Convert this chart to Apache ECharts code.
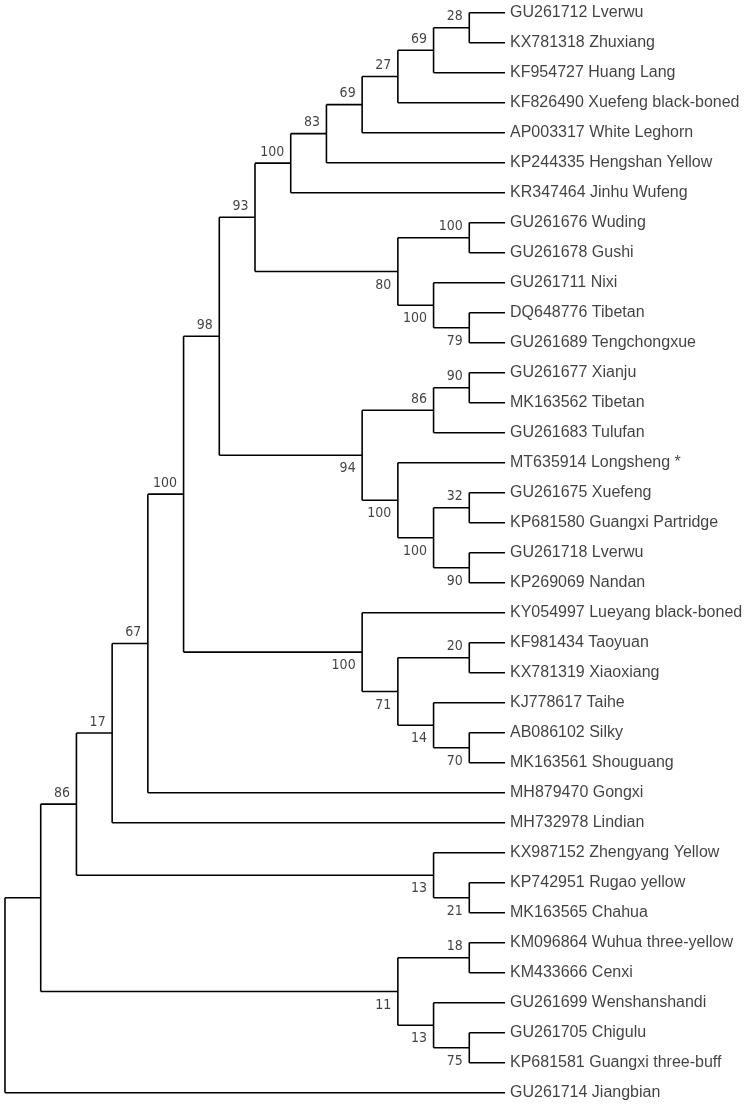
<!DOCTYPE html>
<html>
<head>
    <meta charset="UTF-8">
    <title>Phylogenetic tree</title>
    <script type="text/javascript" src="https://cdn.jsdelivr.net/npm/echarts@6/dist/echarts.min.js"></script>
    <style>
        html, body {
            margin: 0;
            padding: 0;
            background-color: #fff;
        }
    </style>
</head>
<body>
<div id="tree" style="width:750px; height:1106px;"></div>

<script>
    // tips, top to bottom
    var leaves = [
        'GU261712 Lverwu', 'KX781318 Zhuxiang', 'KF954727 Huang Lang', 'KF826490 Xuefeng black-boned',
        'AP003317 White Leghorn', 'KP244335 Hengshan Yellow', 'KR347464 Jinhu Wufeng', 'GU261676 Wuding',
        'GU261678 Gushi', 'GU261711 Nixi', 'DQ648776 Tibetan', 'GU261689 Tengchongxue',
        'GU261677 Xianju', 'MK163562 Tibetan', 'GU261683 Tulufan', 'MT635914 Longsheng *',
        'GU261675 Xuefeng', 'KP681580 Guangxi Partridge', 'GU261718 Lverwu', 'KP269069 Nandan',
        'KY054997 Lueyang black-boned', 'KF981434 Taoyuan', 'KX781319 Xiaoxiang', 'KJ778617 Taihe',
        'AB086102 Silky', 'MK163561 Shouguang', 'MH879470 Gongxi', 'MH732978 Lindian',
        'KX987152 Zhengyang Yellow', 'KP742951 Rugao yellow', 'MK163565 Chahua', 'KM096864 Wuhua three-yellow',
        'KM433666 Cenxi', 'GU261699 Wenshanshandi', 'GU261705 Chigulu', 'KP681581 Guangxi three-buff',
        'GU261714 Jiangbian'
    ];

    // [clade, upper child, lower child, bootstrap]; numbers are leaf indexes
    var clades = [
        ['A', 0, 1, 28], ['B', 'A', 2, 69], ['C', 'B', 3, 27], ['D', 'C', 4, 69],
        ['E', 'D', 5, 83], ['F', 'E', 6, 100], ['G', 7, 8, 100], ['H', 10, 11, 79],
        ['I', 9, 'H', 100], ['J', 'G', 'I', 80], ['K', 'F', 'J', 93], ['L', 12, 13, 90],
        ['M', 'L', 14, 86], ['N', 16, 17, 32], ['O', 18, 19, 90], ['P', 'N', 'O', 100],
        ['Q', 15, 'P', 100], ['R', 'M', 'Q', 94], ['S', 'K', 'R', 98], ['T', 21, 22, 20],
        ['U', 24, 25, 70], ['V', 23, 'U', 14], ['W', 'T', 'V', 71], ['X', 20, 'W', 100],
        ['Y', 'S', 'X', 100], ['Z', 'Y', 26, 67], ['AA', 'Z', 27, 17], ['AB', 29, 30, 21],
        ['AC', 28, 'AB', 13], ['AD', 'AA', 'AC', 86], ['AE', 31, 32, 18], ['AF', 34, 35, 75],
        ['AG', 33, 'AF', 13], ['AH', 'AE', 'AG', 11], ['AI', 'AD', 'AH', null], ['root', 'AI', 36, null]
    ];

    var byId = {};
    clades.forEach(function (c) { byId[c[0]] = c; });

    // cladogram layout: height = levels above the tips, y = middle of children
    var info = {};
    function layout(n) {
        if (typeof n === 'number') return {h: 0, y: n};
        if (info[n]) return info[n];
        var c = byId[n], a = layout(c[1]), b = layout(c[2]);
        info[n] = {h: Math.max(a.h, b.h) + 1, y: (a.y + b.y) / 2};
        return info[n];
    }
    var rootH = layout('root').h;

    var segs = [], supUp = [], supDown = [];
    clades.forEach(function (c) {
        var p = layout(c[0]), px = rootH - p.h;
        var a = layout(c[1]), b = layout(c[2]);
        segs.push([px, a.y, px, b.y]);
        segs.push([px, a.y, rootH - a.h, a.y]);
        segs.push([px, b.y, rootH - b.h, b.y]);
    });
    clades.forEach(function (c) {
        [1, 2].forEach(function (k) {
            var id = c[k];
            if (typeof id === 'number' || byId[id][3] == null) return;
            var n = layout(id);
            (k === 1 ? supUp : supDown).push([rootH - n.h, n.y, byId[id][3]]);
        });
    });
    var tips = leaves.map(function (name, i) { return {value: [rootH, i], name: name}; });

    var chart = echarts.init(document.getElementById('tree'), null, {renderer: 'canvas'});

    var supLabel = function (dy) {
        return {
            show: true, position: 'left', distance: 6.5, offset: [0, dy],
            formatter: function (p) { return p.value[2]; },
            fontFamily: 'DejaVu Sans Condensed', fontSize: 14, color: '#111'
        };
    };

    chart.setOption({
        animation: false,
        grid: {left: 5, top: 12.7, width: 500, height: 1080},
        xAxis: {type: 'value', min: 0, max: rootH, show: false},
        yAxis: {type: 'value', min: 0, max: leaves.length - 1, inverse: true, show: false},
        series: [
            {
                type: 'custom',
                silent: true,
                data: segs,
                renderItem: function (params, api) {
                    var a = api.coord([api.value(0), api.value(1)]);
                    var b = api.coord([api.value(2), api.value(3)]);
                    return {
                        type: 'line',
                        shape: {x1: a[0], y1: a[1], x2: b[0], y2: b[1]},
                        style: {stroke: '#000', lineWidth: 1.6}
                    };
                }
            },
            {
                type: 'scatter', symbolSize: 0, silent: true, data: tips,
                label: {
                    show: true, position: 'right', distance: 5, formatter: '{b}',
                    fontFamily: 'Liberation Sans', fontSize: 16, color: '#111'
                }
            },
            {type: 'scatter', symbolSize: 0, silent: true, data: supUp, label: supLabel(-11)},
            {type: 'scatter', symbolSize: 0, silent: true, data: supDown, label: supLabel(13.5)}
        ]
    });
</script>
</body>
</html>
